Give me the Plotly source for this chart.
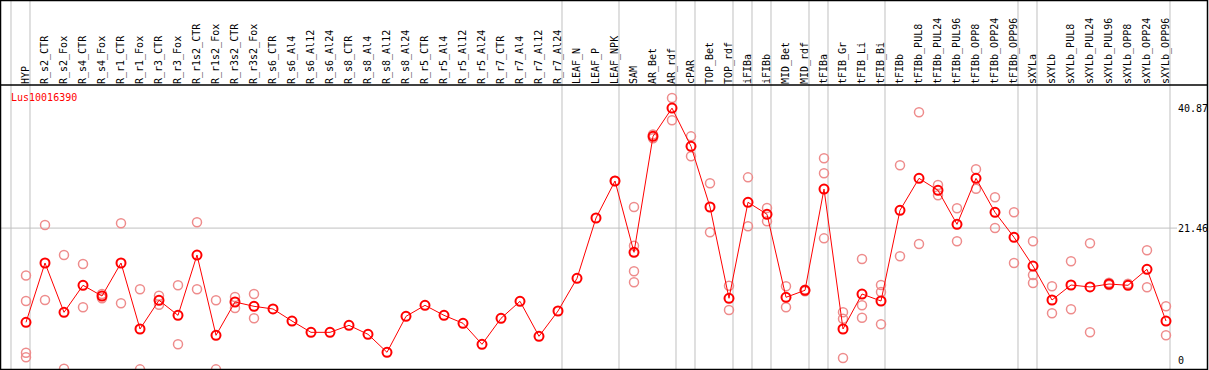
import plotly.graph_objects as go

categories = ["HYP", "R_s2_CTR", "R_s2_Fox", "R_s4_CTR", "R_s4_Fox", "R_r1_CTR", "R_r1_Fox",
              "R_r3_CTR", "R_r3_Fox", "R_r1s2_CTR", "R_r1s2_Fox", "R_r3s2_CTR", "R_r3s2_Fox",
              "R_s6_CTR", "R_s6_Al4", "R_s6_Al12", "R_s6_Al24", "R_s8_CTR", "R_s8_Al4",
              "R_s8_Al12", "R_s8_Al24", "R_r5_CTR", "R_r5_Al4", "R_r5_Al12", "R_r5_Al24",
              "R_r7_CTR", "R_r7_Al4", "R_r7_Al12", "R_r7_Al24", "LEAF_N", "LEAF_P", "LEAF_NPK",
              "SAM", "AR_Bet", "AR_rdf", "cPAR", "TOP_Bet", "TOP_rdf", "iFIBa", "iFIBb",
              "MID_Bet", "MID_rdf", "tFIBa", "tFIB_Gr", "tFIB_Li", "tFIB_Bi", "tFIBb",
              "tFIBb_PUL8", "tFIBb_PUL24", "tFIBb_PUL96", "tFIBb_OPP8", "tFIBb_OPP24",
              "tFIBb_OPP96", "sXYLa", "sXYLb", "sXYLb_PUL8", "sXYLb_PUL24", "sXYLb_PUL96",
              "sXYLb_OPP8", "sXYLb_OPP24", "sXYLb_OPP96"]

means = [6.21, 15.81, 7.83, 12.2, 10.47, 15.81, 5.13, 9.77, 7.34, 17.1, 4.11, 9.5, 8.8,
         8.37, 6.42, 4.59, 4.59, 5.72, 4.27, 1.36, 7.18, 8.96, 7.34, 6.05, 2.65, 6.86, 9.61,
         3.95, 8.04, 13.33, 23.09, 29.08, 17.54, 36.3, 40.87, 34.69, 24.87, 10.1, 25.63,
         23.69, 10.26, 11.39, 27.78, 5.13, 10.79, 9.66, 24.34, 29.51, 27.57, 22.07, 29.51,
         24.01, 19.97, 15.32, 9.82, 12.25, 11.93, 12.41, 12.2, 14.79, 6.42]

replicates = [
    [13.8, 9.66, 1.3, 0.55], [21.96, 9.82], [17.1, -1.3], [15.65, 8.64], [10.79, 10.1],
    [22.23, 9.29], [11.55, -1.4], [10.52, 9.06], [12.2, 2.65], [22.39, 11.55],
    [9.77, -1.4], [10.31, 8.53], [10.79, 6.86],
    [], [], [], [], [], [], [], [], [], [], [], [], [], [], [], [], [], [],
    [29.08], [24.87, 18.61, 14.47, 12.69], [36.6, 36.0], [42.5, 38.9], [36.3, 33.07],
    [28.7, 20.78], [12.14, 8.2], [29.67, 21.75], [24.71, 22.55], [12.04, 8.64],
    [11.5, 11.25], [32.75, 30.32, 19.8], [7.83, 6.8, 0.44], [16.46, 8.96, 6.96],
    [12.25, 11.12, 5.89], [31.62, 16.89], [40.19, 18.88], [28.43, 26.76],
    [24.66, 19.32], [30.97, 27.83], [26.44, 21.47], [24.01, 15.81],
    [19.32, 13.87, 12.57], [12.04, 7.67], [16.08, 8.32], [19.0, 4.59],
    [12.6, 12.25], [12.45], [17.86, 11.88], [8.8, 4.11]]

group_ends = [-1, 0, 28, 31, 34, 35, 37, 38, 39, 41, 42, 45, 52, 53, 60]

y_ticks = [0, 21.46, 40.87]
y_ticktext = ["0", "21.46", "40.87"]
gene = "Lus10016390"

idx = list(range(len(categories)))
rep_x, rep_y = [], []
for i, reps in enumerate(replicates):
    for v in reps:
        rep_x.append(i)
        rep_y.append(v)

W, H = 1209, 370
ML, MR, MT, MB = 1, 32, 85, 1
plot_w = W - ML - MR
plot_h = H - MT - MB
px_per_cat = 19.0
x0 = -(26 - ML) / px_per_cat
x1 = x0 + plot_w / px_per_cat
ppu = 6.18
y_top = (360.7 - MT) / ppu
y_bot = (360.7 - (H - MB)) / ppu

FONT = "DejaVu Sans Mono"

fig = go.Figure()
fig.add_trace(go.Scatter(x=rep_x, y=rep_y, mode="markers",
                         marker=dict(symbol="circle-open", size=9, color="rgb(238,140,140)",
                                     line=dict(width=1.5, color="rgb(238,140,140)")),
                         showlegend=False, hoverinfo="skip"))
fig.add_trace(go.Scatter(x=idx, y=means, mode="lines+markers",
                         line=dict(color="#ff0000", width=1),
                         marker=dict(symbol="circle-open", size=9, color="#ff0000",
                                     line=dict(width=2, color="#ff0000")),
                         showlegend=False))

shapes = []
shapes.append(dict(type="line", xref="paper", yref="y", x0=0, x1=1, y0=21.46, y1=21.46,
                   line=dict(color="#c0c0c0", width=1), layer="below"))
top_paper = 1 + MT / plot_h
bot_paper = -MB / plot_h
for g in group_ends:
    shapes.append(dict(type="line", xref="x", yref="paper", x0=g + 0.21, x1=g + 0.21,
                       y0=bot_paper, y1=top_paper, line=dict(color="#c0c0c0", width=1),
                       layer="below"))
lx = -ML / plot_w + 0.5 / plot_w
rx = (W - ML - 1.5) / plot_w
shapes.append(dict(type="rect", xref="paper", yref="paper", x0=lx, x1=rx,
                   y0=bot_paper + 0.5 / plot_h, y1=top_paper - 0.5 / plot_h,
                   line=dict(color="black", width=1.5)))
shapes.append(dict(type="line", xref="paper", yref="paper", x0=lx, x1=rx, y0=1, y1=1,
                   line=dict(color="black", width=1.5)))

fig.update_layout(
    width=W, height=H,
    margin=dict(l=ML, r=MR, t=MT, b=MB, pad=0),
    paper_bgcolor="white", plot_bgcolor="white",
    shapes=shapes,
    xaxis=dict(range=[x0, x1], side="top", tickmode="array", tickvals=idx,
               ticktext=categories, tickangle=-90, showgrid=False, zeroline=False,
               ticks="", showline=False, automargin=False,
               tickfont=dict(family=FONT, size=10, color="black")),
    yaxis=dict(range=[y_bot, y_top], side="right", tickmode="array", tickvals=y_ticks,
               ticktext=y_ticktext, showgrid=False, zeroline=False, ticks="",
               showline=False, automargin=False,
               tickfont=dict(family=FONT, size=10, color="black")),
    annotations=[dict(text=gene, xref="paper", yref="paper", x=8 / plot_w,
                      y=(H - MB - 97) / plot_h, xanchor="left", yanchor="middle",
                      showarrow=False, font=dict(family=FONT, size=10, color="red"))],
)

fig.write_html("out.html", config={"displayModeBar": False},
               post_script="document.body.style.margin='0px';document.body.style.overflow='hidden';")
